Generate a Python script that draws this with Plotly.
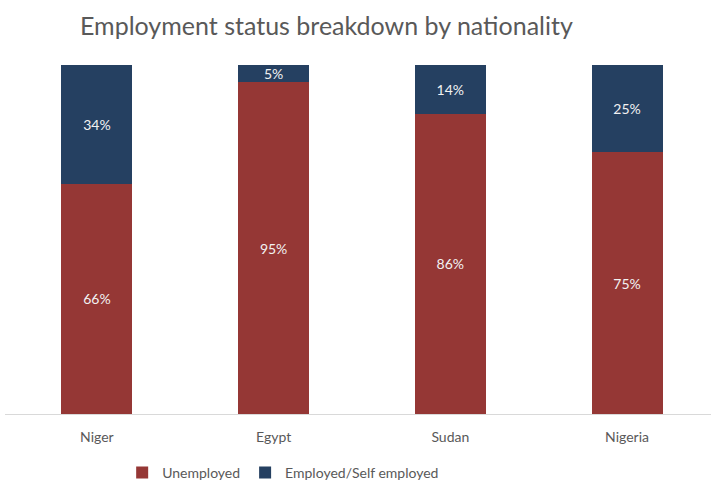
import plotly.graph_objects as go

categories = ["Niger", "Egypt", "Sudan", "Nigeria"]
unemployed = [66, 95, 86, 75]
employed = [34, 5, 14, 25]

FONT = "Lato"
fig = go.Figure()
fig.add_trace(go.Bar(
    x=categories, y=unemployed, name="Unemployed",
    marker=dict(color="#953735", line=dict(width=0)),
    text=[f"{v}%" for v in unemployed], textposition="inside",
    insidetextanchor="middle", constraintext="none",
    textfont=dict(color="#f2f2f2", size=14, family=FONT),
))
fig.add_trace(go.Bar(
    x=categories, y=employed, name="Employed/Self employed",
    marker=dict(color="#254061", line=dict(width=0)),
    text=[f"{v}%" for v in employed], textposition="inside",
    insidetextanchor="middle", constraintext="none",
    textfont=dict(color="#f2f2f2", size=14, family=FONT),
))
fig.update_layout(
    barmode="stack", bargap=0.598,
    width=711, height=481,
    margin=dict(l=5, r=0, t=65, b=67, autoexpand=False),
    paper_bgcolor="white", plot_bgcolor="white",
    font=dict(family=FONT, color="#595959", size=13),
    title=dict(text="Employment status breakdown by nationality",
               x=80/711, xanchor="left", y=1 - 26/481, yanchor="middle",
               font=dict(size=25, color="#595959", family=FONT)),
    xaxis=dict(range=[-0.52, 3.475], showline=True, linecolor="#d9d9d9",
               linewidth=1, ticks="outside", ticklen=10, tickcolor="rgba(0,0,0,0)",
               showgrid=False,
               tickfont=dict(size=14, color="#595959")),
    yaxis=dict(range=[0, 100], visible=False),
    legend=dict(orientation="h", x=118/711, xanchor="left",
                yref="container", y=1 - 473/481,
                yanchor="middle", font=dict(size=14, color="#595959"),
                itemwidth=30, traceorder="normal", tracegroupgap=0),
    showlegend=True,
)
fig.write_html("out.html")
